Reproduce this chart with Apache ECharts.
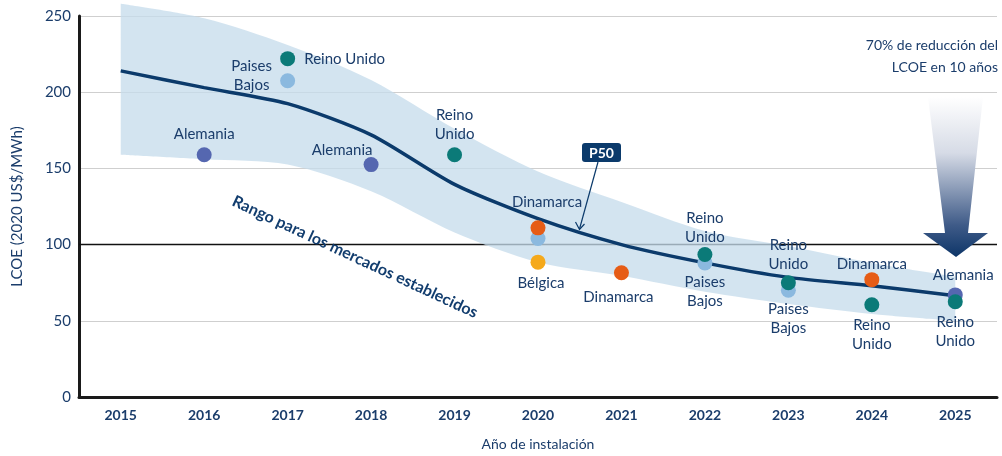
<!DOCTYPE html>
<html>
<head>
<meta charset="utf-8">
<script src="https://cdn.jsdelivr.net/npm/echarts@6/dist/echarts.min.js"></script>
<style>
  html, body { margin: 0; padding: 0; background: #fff; }
  #lcoe_chart { width: 1002px; height: 456px; }
</style>
</head>
<body>
<div id="lcoe_chart"></div>
<script>
// categories and values
var years = ['2015','2016','2017','2018','2019','2020','2021','2022','2023','2024','2025'];
var p50 = [214, 203, 192.5, 172, 139.5, 117, 100, 88, 78.5, 73, 66.5];
var bandLow = [159, 156, 152.5, 135, 108, 88.5, 79.5, 69, 61, 54.5, 50];
var bandHigh = [258, 248.5, 231, 208, 176, 148, 128, 109, 99, 88, 79];

var alemaniaYears = ['2016','2018','2025'];
var alemaniaValues = [159, 152.5, 67];
var paisesBajosYears = ['2017','2020','2022','2023'];
var paisesBajosValues = [207.5, 104, 88, 70];
var reinoUnidoYears = ['2017','2019','2022','2023','2024','2025'];
var reinoUnidoValues = [222, 159, 93.5, 75, 60.5, 62.5];
var dinamarcaYears = ['2020','2021','2024'];
var dinamarcaValues = [111, 81.5, 77];
var belgicaYears = ['2020'];
var belgicaValues = [88.5];

var yTicks = [0, 50, 100, 150, 200, 250];

var navy = '#1b3d6b';
var lineNavy = '#0b3a6b';
var font = 'Lato';

// label text and placement per point (styles only)
var labelStyle = {
    'Alemania-2016': {text: 'Alemania', offset: [0, -21]},
    'Alemania-2018': {text: 'Alemania', offset: [-29, -14]},
    'Alemania-2025': {text: 'Alemania', offset: [8, -20]},
    'Paises Bajos-2017': {text: 'Paises\nBajos', offset: [-36, -5]},
    'Paises Bajos-2022': {text: 'Paises\nBajos', offset: [0, 29]},
    'Paises Bajos-2023': {text: 'Paises\nBajos', offset: [0, 28]},
    'Reino Unido-2017': {text: 'Reino Unido', offset: [57, 0]},
    'Reino Unido-2019': {text: 'Reino\nUnido', offset: [0, -30]},
    'Reino Unido-2022': {text: 'Reino\nUnido', offset: [0, -27]},
    'Reino Unido-2023': {text: 'Reino\nUnido', offset: [0, -28]},
    'Reino Unido-2024': {text: 'Reino\nUnido', offset: [0, 30]},
    'Reino Unido-2025': {text: 'Reino\nUnido', offset: [0, 30]},
    'Dinamarca-2020': {text: 'Dinamarca', offset: [9, -26]},
    'Dinamarca-2021': {text: 'Dinamarca', offset: [-3, 24]},
    'Dinamarca-2024': {text: 'Dinamarca', offset: [0, -15]},
    'Bélgica-2020': {text: 'Bélgica', offset: [3, 21]}
};

function makePoints(name, ys, vals) {
    return ys.map(function (y, i) {
        var st = labelStyle[name + '-' + y];
        var item = {value: [y, vals[i]]};
        if (st) {
            item.label = {show: true, position: 'inside', formatter: st.text, offset: st.offset};
        } else {
            item.label = {show: false};
        }
        return item;
    });
}

function scatterSeries(name, ys, vals, color) {
    return {
        name: name,
        type: 'scatter',
        symbolSize: 15,
        z: 4,
        itemStyle: {color: color, opacity: 1},
        label: {
            color: navy,
            fontFamily: font,
            fontSize: 15,
            lineHeight: 19,
            align: 'center',
            verticalAlign: 'middle'
        },
        data: makePoints(name, ys, vals)
    };
}

var bandDiff = bandHigh.map(function (v, i) { return v - bandLow[i]; });

var chart = echarts.init(document.getElementById('lcoe_chart'));

var option = {
    animation: false,
    grid: {left: 79, right: 5, top: 16, bottom: 56},
    xAxis: {
        type: 'category',
        data: years,
        boundaryGap: true,
        name: 'Año de instalación',
        nameLocation: 'middle',
        nameGap: 40,
        nameTextStyle: {color: navy, fontFamily: font, fontSize: 14},
        axisLine: {lineStyle: {color: '#1a1a1a', width: 3}},
        axisTick: {show: false},
        axisLabel: {color: navy, fontFamily: font, fontSize: 14, fontWeight: 'bold', margin: 11},
        splitLine: {show: false}
    },
    yAxis: {
        type: 'value',
        min: yTicks[0],
        max: yTicks[yTicks.length - 1],
        interval: 50,
        name: 'LCOE (2020 US$/MWh)',
        nameLocation: 'middle',
        nameGap: 54,
        nameTextStyle: {color: navy, fontFamily: font, fontSize: 15},
        axisLine: {show: true, lineStyle: {color: '#1a1a1a', width: 3}},
        axisTick: {show: false},
        axisLabel: {color: navy, fontFamily: font, fontSize: 15, margin: 8},
        splitLine: {lineStyle: {color: '#cfcfcf', width: 1}}
    },
    series: [
        {
            name: 'bandLow',
            type: 'line',
            stack: 'band',
            data: bandLow,
            smooth: 0.3,
            symbol: 'none',
            clip: false,
            lineStyle: {opacity: 0},
            z: 2,
            markLine: {
                z: 1,
                silent: true,
                symbol: 'none',
                label: {show: false},
                lineStyle: {color: '#111', width: 1.3, type: 'solid'},
                data: [{yAxis: 100}]
            }
        },
        {
            name: 'band',
            type: 'line',
            stack: 'band',
            data: bandDiff,
            smooth: 0.3,
            symbol: 'none',
            clip: false,
            lineStyle: {opacity: 0},
            areaStyle: {color: 'rgba(197,220,235,0.76)', opacity: 1},
            z: 2
        },
        {
            name: 'P50',
            type: 'line',
            data: p50,
            smooth: 0.25,
            symbol: 'none',
            lineStyle: {color: lineNavy, width: 3.5},
            z: 3
        },
        scatterSeries('Alemania', alemaniaYears, alemaniaValues, '#5567b0'),
        scatterSeries('Paises Bajos', paisesBajosYears, paisesBajosValues, '#8bb9df'),
        scatterSeries('Reino Unido', reinoUnidoYears, reinoUnidoValues, '#0b7a78'),
        scatterSeries('Dinamarca', dinamarcaYears, dinamarcaValues, '#e65c16'),
        scatterSeries('Bélgica', belgicaYears, belgicaValues, '#f5a91b')
    ],
    graphic: [
        {
            type: 'text',
            x: 355, y: 257,
            rotation: -0.435,
            z: 10,
            style: {
                text: 'Rango para los mercados establecidos',
                fill: '#123d6e',
                font: 'bold 16px Lato',
                align: 'center',
                verticalAlign: 'middle'
            }
        },
        {
            type: 'rect',
            shape: {x: 582, y: 143, width: 39, height: 19, r: 3},
            style: {fill: lineNavy},
            z: 10
        },
        {
            type: 'text',
            x: 601.5, y: 153,
            z: 11,
            style: {text: 'P50', fill: '#fff', font: 'bold 14px Lato', align: 'center', verticalAlign: 'middle'}
        },
        {
            type: 'polyline',
            z: 10,
            shape: {points: [[598, 162], [579.5, 229]]},
            style: {stroke: lineNavy, lineWidth: 1.2, fill: null}
        },
        {
            type: 'polyline',
            z: 10,
            shape: {points: [[575.5, 222], [579.5, 229.5], [584.5, 224]]},
            style: {stroke: lineNavy, lineWidth: 1.2, fill: null}
        },
        {
            type: 'polygon',
            z: 9,
            shape: {points: [[928, 97], [983, 97], [968, 233], [988, 233], [956, 257], [923, 233], [945, 233]]},
            style: {
                fill: {
                    type: 'linear', x: 0, y: 0, x2: 0, y2: 1,
                    colorStops: [
                        {offset: 0, color: 'rgba(255,255,255,1)'},
                        {offset: 0.35, color: '#d6dbe6'},
                        {offset: 0.8, color: '#3f5b88'},
                        {offset: 1, color: '#0d3568'}
                    ]
                }
            }
        },
        {
            type: 'text',
            x: 998, y: 34,
            z: 10,
            style: {
                text: '70% de reducción del\nLCOE en 10 años',
                fill: navy,
                font: '14px Lato',
                lineHeight: 22,
                align: 'right',
                verticalAlign: 'top'
            }
        }
    ]
};

chart.setOption(option);
</script>
</body>
</html>
